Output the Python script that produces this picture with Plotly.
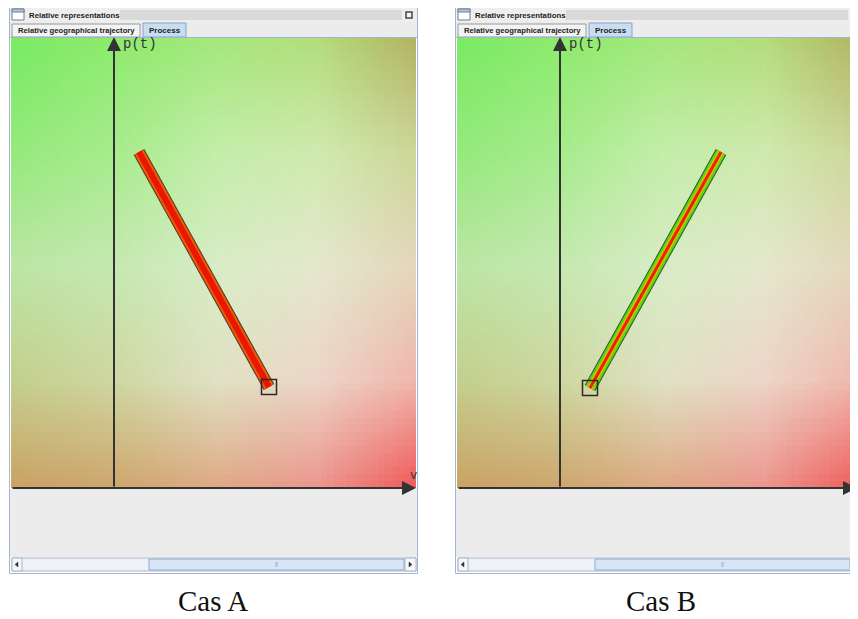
import base64
import struct
import zlib
import plotly.graph_objects as go

# the page puts the plot 8px in from the top-left corner
PAGE = 8
FW, FH = 858 - PAGE, 619 - PAGE

# trajectory in each case: (v, p) measured from the axis origin
case_a_v = [25, 155]
case_a_p = [336, 101]
case_b_v = [161, 30]
case_b_p = [336, 100]

captions = ["Cas A", "Cas B"]
axis_names = ["v", "p(t)"]
window_title = "Relative representations"
tab_labels = ["Relative geographical trajectory", "Process"]

# background colour field at the edges / quarter lines (rows top -> bottom)
bg_rows = [
    [(122, 235, 100), (142, 235, 110), (165, 232, 125), (180, 222, 125), (180, 178, 98)],
    [(150, 234, 125), (168, 236, 142), (196, 238, 170), (208, 234, 175), (205, 214, 152)],
    [(188, 230, 165), (198, 233, 178), (217, 236, 198), (228, 232, 205), (228, 214, 188)],
    [(196, 208, 142), (207, 216, 162), (224, 226, 196), (236, 214, 200), (240, 182, 172)],
    [(203, 160, 100), (206, 165, 108), (222, 168, 130), (236, 148, 140), (240, 84, 84)],
]


def png_uri(rows):
    h, w = len(rows), len(rows[0])
    raw = b"".join(b"\x00" + bytes(c for px in row for c in px) for row in rows)

    def chunk(tag, data):
        body = tag + data
        return struct.pack(">I", len(data)) + body + struct.pack(">I", zlib.crc32(body) & 0xFFFFFFFF)

    png = (b"\x89PNG\r\n\x1a\n"
           + chunk(b"IHDR", struct.pack(">IIBBBBB", w, h, 8, 2, 0, 0, 0))
           + chunk(b"IDAT", zlib.compress(raw))
           + chunk(b"IEND", b""))
    return "data:image/png;base64," + base64.b64encode(png).decode()


def fx(x):
    return (x - PAGE) / FW


def fy(y):
    return 1 - (y - PAGE) / FH


def pt(x, y):
    return f"{fx(x):.5f},{fy(y):.5f}"


fig = go.Figure()
shapes = []
annotations = []
images = []
bg_src = png_uri(bg_rows)


def rect(x0, y0, x1, y1, fill="rgba(0,0,0,0)", line="rgba(0,0,0,0)", lw=1):
    shapes.append(dict(type="rect", xref="paper", yref="paper", layer="below",
                       x0=fx(x0), x1=fx(x1), y0=fy(y1), y1=fy(y0),
                       fillcolor=fill, line=dict(color=line, width=lw)))


def tri(points, color):
    path = "M" + " L".join(pt(x, y) for x, y in points) + " Z"
    shapes.append(dict(type="path", xref="paper", yref="paper", layer="below", path=path,
                       fillcolor=color, line=dict(color=color, width=0.5)))


def text(x, y, s, size, family, color="#222", xanchor="left", bold=False):
    annotations.append(dict(x=fx(x), y=fy(y), xref="paper", yref="paper", showarrow=False,
                            text=f"<b>{s}</b>" if bold else s, xanchor=xanchor, yanchor="middle",
                            font=dict(size=size, family=family, color=color)))


chrome_font = "Liberation Sans, Arial, sans-serif"

panels = [
    dict(o=0, v=case_a_v, p=case_a_p, ax="x", ay="y", layers=[(12, "#4a3a2c"), (10, "#f05a00"), (6, "#e81800")]),
    dict(o=446, v=case_b_v, p=case_b_p, ax="x2", ay="y2",
         layers=[(12, "#3d4f2e"), (10, "#4cdc14"), (6, "#d6bf00"), (3, "#ee2000")]),
]

for k, pnl in enumerate(panels):
    o = pnl["o"]
    ox, oy = 114 + o, 488  # axis origin on screen
    left, right, top = 11 + o, min(416 + o, 858), 38

    # window chrome
    rect(10 + o, 8, 417 + o, 22, fill="#eeeeee")
    rect(120 + o, 10, 402 + o, 20, fill="#d9d9d9")
    rect(12 + o, 9, 24 + o, 20, fill="#ffffff", line="#6d7d9a")
    rect(12 + o, 9, 24 + o, 12, fill="#b9c8df", line="#6d7d9a")
    rect(406 + o, 12, 412 + o, 18, fill="#f4f4f4", line="#444444", lw=1.5)
    rect(10 + o, 22, 417 + o, 37, fill="#ececec")
    rect(12 + o, 24, 140 + o, 37, fill="#f3f3f3", line="#9a9a9a")
    rect(143 + o, 23, 186 + o, 37, fill="#c8dcf2", line="#8aa3c6")
    shapes.append(dict(type="line", xref="paper", yref="paper", layer="below",
                       x0=fx(10 + o), x1=fx(417 + o), y0=fy(37.5), y1=fy(37.5),
                       line=dict(color="#9fb3d3", width=1)))
    text(27 + o, 15.5, window_title, 7.8, chrome_font, bold=True)
    text(76 + o, 30.5, tab_labels[0], 7.7, chrome_font, xanchor="center", bold=True)
    text(164.5 + o, 30.5, tab_labels[1], 8, chrome_font, xanchor="center", bold=True)

    # grey area under the drawing and the scrollbar
    rect(10 + o, 489, 417 + o, 557, fill="#ececec")
    rect(12 + o, 558, 416 + o, 571, fill="#eef1f5", line="#a8b6cb")
    rect(12 + o, 558, 22 + o, 571, fill="#f5f7fa", line="#a8b6cb")
    rect(405 + o, 558, 416 + o, 571, fill="#f5f7fa", line="#a8b6cb")
    rect(149 + o, 559, 404 + o, 570, fill="#d7e5f6", line="#93abcf")
    rect(275 + o, 562, 278 + o, 567, fill="#b9c9de")
    tri([(15 + o, 564.5), (18 + o, 562), (18 + o, 567)], "#333333")
    tri([(412 + o, 564.5), (409 + o, 562), (409 + o, 567)], "#333333")

    # window border
    rect(9.5 + o, 7.5, 417.5 + o, 573.5, line="#a4b5d0")

    # gradient, placed on the drawing axes so that it is clipped to them
    cw, ch = 405 / 4, 450 / 4
    images.append(dict(source=bg_src, xref=pnl["ax"], yref=pnl["ay"],
                       x=left - ox - cw / 2, y=oy - top + ch / 2,
                       sizex=5 * cw, sizey=5 * ch, sizing="stretch", layer="below",
                       xanchor="left", yanchor="top"))

    # axes with arrow heads
    annotations.append(dict(x=fx(ox), y=fy(37), xref="paper", yref="paper", text="",
                            showarrow=True, ax=0, ay=oy - 37, arrowhead=2, arrowsize=1.4,
                            arrowwidth=2, arrowcolor="#333333", standoff=0))
    annotations.append(dict(x=fx(416 + o), y=fy(oy), xref="paper", yref="paper", text="",
                            showarrow=True, ax=-405, ay=0, arrowhead=2,
                            arrowsize=1.4, arrowwidth=2, arrowcolor="#333333", standoff=0))
    text(121 + o, 44, axis_names[1], 14, "Liberation Mono", color="#333")
    text(408 + o, 476, axis_names[0], 12, "Liberation Mono", color="#333")

    # trajectory band
    for lw, col in pnl["layers"]:
        fig.add_trace(go.Scatter(x=pnl["v"], y=pnl["p"], mode="lines", xaxis=pnl["ax"], yaxis=pnl["ay"],
                                 line=dict(color=col, width=lw), hoverinfo="skip", showlegend=False))
    fig.add_trace(go.Scatter(x=[pnl["v"][1]], y=[pnl["p"][1]], mode="markers", xaxis=pnl["ax"],
                             yaxis=pnl["ay"], cliponaxis=False, showlegend=False, hoverinfo="skip",
                             marker=dict(symbol="square-open", size=15, color="#2a2a2a",
                                         line=dict(width=1.5, color="#2a2a2a"))))

    # caption
    text(213 + o + (2 if k else 0), 601, captions[k], 29, "Liberation Serif", color="#111", xanchor="center")

    axis_common = dict(visible=False, showgrid=False, zeroline=False, fixedrange=True)
    fig.update_layout(**{
        ("xaxis" if k == 0 else "xaxis2"): dict(domain=[fx(left), fx(right)],
                                                 range=[left - ox, right - ox],
                                                 anchor="y" if k == 0 else "y2", **axis_common),
        ("yaxis" if k == 0 else "yaxis2"): dict(domain=[fy(oy), fy(top)], range=[0, oy - top],
                                                 anchor="x" if k == 0 else "x2", **axis_common),
    })

fig.update_layout(width=FW, height=FH, margin=dict(l=0, r=0, t=0, b=0),
                  paper_bgcolor="white", plot_bgcolor="rgba(0,0,0,0)",
                  shapes=shapes, annotations=annotations, images=images, showlegend=False)

fig.write_html("out.html")
